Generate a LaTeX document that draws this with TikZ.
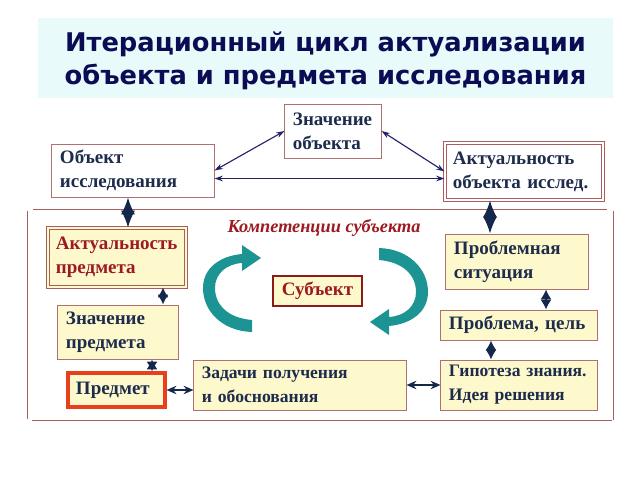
\documentclass[tikz,border=0pt]{standalone}
\usepackage{fontspec}
\setmainfont{Liberation Serif}
\newfontfamily\titlefont{DejaVu Sans}
\usepackage{tikz}
\usetikzlibrary{arrows.meta}
\definecolor{titlebg}{HTML}{E8FAFA}
\definecolor{titleink}{HTML}{0C0C55}
\definecolor{inknavy}{HTML}{1E2C4C}
\definecolor{inkred}{HTML}{9C1A22}
\definecolor{boxline}{HTML}{B07070}
\definecolor{frameline}{HTML}{A85E5E}
\definecolor{paleyellow}{HTML}{FDF9CD}
\definecolor{subjline}{HTML}{8B1A1A}
\definecolor{predline}{HTML}{E8401C}
\definecolor{linknavy}{HTML}{22226A}
\definecolor{fatnavy}{HTML}{14284C}
\definecolor{turnteal}{HTML}{1C9494}
\tikzset{
  box/.style={draw=boxline, line width=0.7pt, fill=paleyellow, text=inknavy,
    align=left, inner xsep=0.2cm, inner ysep=0pt,
    font=\fontsize{13.5}{17}\selectfont\bfseries},
  whitebox/.style={box, fill=white},
  dbl/.style={double=#1, double distance=1.3pt, line width=0.7pt, draw=frameline},
  thinlink/.style={{Stealth[length=6pt,width=4pt]}-{Stealth[length=6pt,width=4pt]}, line width=0.8pt, linknavy},
  sidelink/.style={{Stealth[length=7pt,width=6pt]}-{Stealth[length=7pt,width=6pt]}, line width=1.1pt, fatnavy},
  fatlink/.style={{Latex[length=12pt,width=10pt]}-{Latex[length=12pt,width=10pt]}, draw=fatnavy, double=white, double distance=1pt, line width=1.2pt},
  starlink/.style={{Latex[length=7pt,width=8pt]}-{Latex[length=7pt,width=8pt]}, line width=1.8pt, fatnavy},
}
\begin{document}
\begin{tikzpicture}[x=0.025cm,y=-0.025cm]
\useasboundingbox (0,0) rectangle (640,480);
% title
\fill[titlebg] (38,18) rectangle (613,98);
\node[text=titleink, align=center, font=\titlefont\fontsize{18.3}{23}\selectfont\bfseries] (title) at (325.5,61)
  {Итерационный цикл актуализации\\объекта и предмета исследования};
% frame
\draw[frameline, line width=0.7pt] (33,209) -- (607,209);
\draw[frameline, line width=0.7pt] (27,211) -- (27,419);
\draw[frameline, line width=0.7pt] (32,420) -- (612,420);
\draw[frameline, line width=0.7pt] (613,211) -- (613,420);
% upper row
\node[whitebox, text width=2.0cm, minimum height=1.35cm] (zobj) at (333,131) {Значение\\объекта};
\node[whitebox, text width=3.65cm, minimum height=1.325cm] (obj) at (133,170.5) {Объект\\исследования};
\node[whitebox, dbl=white, text width=3.55cm, minimum height=1.425cm] (aobj) at (524,171.5) {Актуальность\\объекта исслед.};
% inner nodes
\node[box, dbl=paleyellow, text=inkred, text width=3.05cm, minimum height=1.475cm] (apred) at (117,257.5) {Актуальность\\предмета};
\node[box, text width=3.15cm, minimum height=1.375cm] (psit) at (517,261.5) {Проблемная\\ситуация};
\node[box, draw=subjline, line width=1.8pt, text=inkred, align=center, inner xsep=0pt, text width=2.225cm, minimum height=0.75cm] (subj) at (317.5,291) {Субъект};
\node[box, text width=2.6cm, minimum height=1.35cm] (zpred) at (118,332) {Значение\\предмета};
\node[box, text width=3.5cm, minimum height=0.75cm] (pcel) at (519,325) {Проблема, цель};
\node[box, draw=predline, line width=2.2pt, text width=2.025cm, minimum height=0.85cm] (pred) at (116.5,390) {Предмет};
\node[box, text width=4.9cm, minimum height=1.25cm, font=\fontsize{12.5}{17}\selectfont\bfseries] (zad) at (300,385) {Задачи получения\\и обоснования};
\node[box, text width=3.5cm, minimum height=1.25cm, font=\fontsize{12.5}{17}\selectfont\bfseries] (gip) at (519,385) {Гипотеза знания.\\Идея решения};
\node[text=inkred, font=\fontsize{13}{15}\selectfont\bfseries\itshape] (comp) at (324,228) {Компетенции субъекта};
% turning arrows
\foreach \r in {0,180}
  \fill[turnteal, rotate around={\r:(315.5,290)}] (252,332) .. controls (222,331) and (203,311) .. (203,288)
    .. controls (203,268) and (220,256) .. (242,254) -- (242,245) -- (261,258) -- (242,271) -- (242,263)
    .. controls (226,264) and (215,274) .. (215,288) .. controls (215,305) and (228,318) .. (252,320) -- cycle;
% links
\draw[thinlink] (obj.east) -- (zobj.west);
\draw[thinlink] (zobj.east) -- (aobj.west);
\draw[thinlink] ([yshift=-0.2cm]obj.east) -- ([yshift=-0.2cm]obj.east -| aobj.west);
\draw[fatlink] ([xshift=-0.125cm]obj.south) -- ([xshift=-0.125cm]obj.south |- apred.north);
\draw[fatlink] ([xshift=-0.85cm]aobj.south) -- ([xshift=-0.85cm]aobj.south |- psit.north);
\draw[starlink] ([xshift=1.15cm]apred.south) -- ([xshift=1.15cm]apred.south |- zpred.north);
\draw[starlink] ([xshift=0.725cm]psit.south) -- ([xshift=0.725cm]psit.south |- pcel.north);
\draw[starlink] ([xshift=0.85cm]zpred.south) -- ([xshift=0.85cm]zpred.south |- pred.north);
\draw[starlink] ([xshift=-0.7cm]pcel.south) -- ([xshift=-0.7cm]pcel.south |- gip.north);
\draw[sidelink] (pred.east) -- (pred.east -| zad.west);
\draw[sidelink] (zad.east) -- (gip.west);
\end{tikzpicture}
\end{document}
